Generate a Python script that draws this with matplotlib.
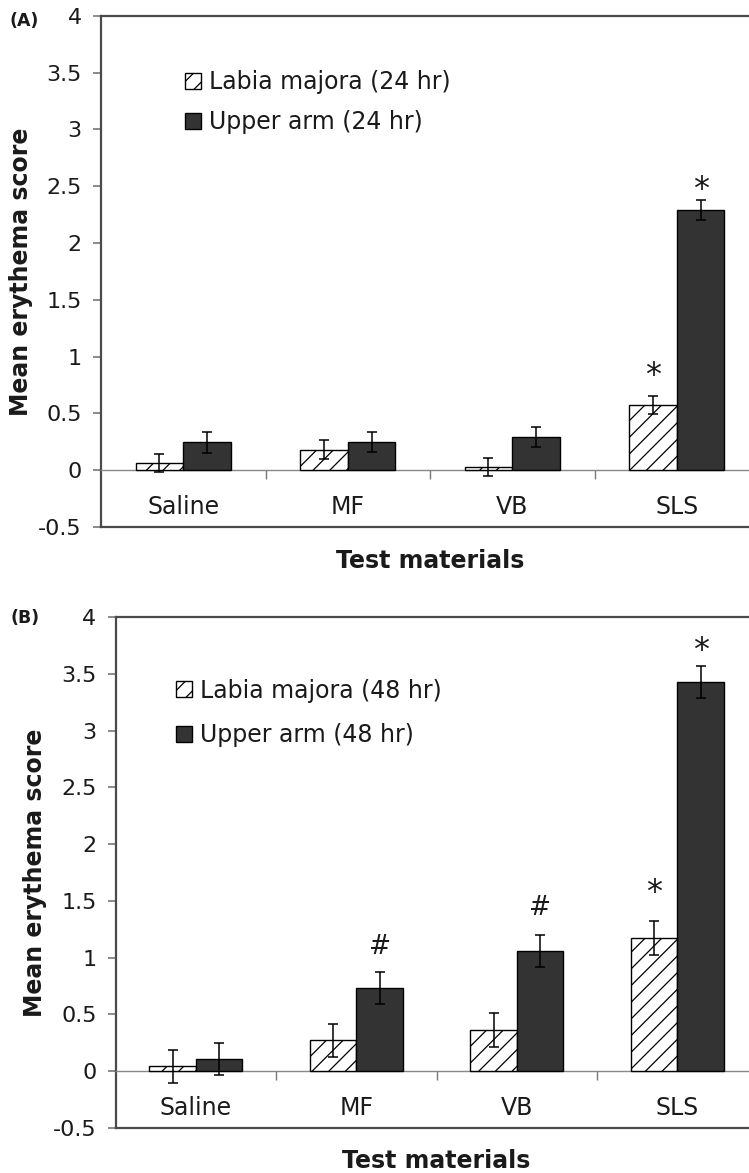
import numpy as np
import matplotlib
matplotlib.use("Agg")
import matplotlib.pyplot as plt
from matplotlib.ticker import FixedLocator

# Données
categories = ["Saline", "MF", "VB", "SLS"]

labia_24 = [0.067, 0.182, 0.03, 0.572]
labia_24_err = [0.08, 0.08, 0.08, 0.08]
arm_24 = [0.245, 0.25, 0.29, 2.29]
arm_24_err = [0.09, 0.09, 0.09, 0.09]

labia_48 = [0.041, 0.27, 0.359, 1.171]
labia_48_err = [0.145, 0.148, 0.15, 0.15]
arm_48 = [0.103, 0.732, 1.061, 3.433]
arm_48_err = [0.14, 0.141, 0.14, 0.14]

# marques de significativité : (catégorie, série, symbole, hauteur)
marks_24 = [(3, 0, "*", 0.924), (3, 1, "*", 2.565)]
marks_48 = [(1, 1, "#", 1.115), (2, 1, "#", 1.459), (3, 0, "*", 1.665), (3, 1, "*", 3.796)]

yticks = [-0.5, 0, 0.5, 1, 1.5, 2, 2.5, 3, 3.5, 4]

plt.rcParams["font.family"] = "DejaVu Sans"
plt.rcParams["hatch.linewidth"] = 0.9

TXT = "#1a1a1a"
FRAME = "#4a4a4a"
DARK = "#333333"
FS = 17


def draw_panel(ax, labia, labia_err, arm, arm_err, lab_labia, lab_arm, marks, leg_anchor, leg_spacing):
    x = np.arange(len(categories)) + 0.5
    w = 0.29
    ekw = dict(ecolor="black", elinewidth=1.1, capsize=3.4, capthick=1.1)
    ax.bar(x - w / 2, labia, w, yerr=labia_err, color="white", edgecolor="black",
           hatch="//", linewidth=1.0, label=lab_labia, error_kw=ekw, zorder=3)
    ax.bar(x + w / 2, arm, w, yerr=arm_err, color=DARK, edgecolor="black",
           linewidth=1.0, label=lab_arm, error_kw=ekw, zorder=3)

    for i, s, sym, yv in marks:
        xv = x[i] + (w / 2 if s == 1 else -w / 2)
        fs = 23 if sym == "*" else 19
        off = 0.59 if sym == "*" else 0.36
        ax.annotate(sym, (xv, yv), xytext=(0, -off * fs), textcoords="offset points",
                    ha="center", va="baseline", fontsize=fs, color=TXT, zorder=4)

    ax.set_xlim(0, 4)
    ax.set_ylim(-0.5, 4)

    # axe des catégories à y = 0, cadre en bas à -0.5
    ax.spines["bottom"].set_position(("data", 0))
    ax.spines["bottom"].set_color("#888888")
    ax.spines["bottom"].set_linewidth(1.0)
    ax.axhline(-0.5, color=FRAME, linewidth=1.6, clip_on=False, zorder=5)
    for sp in ["left", "top", "right"]:
        ax.spines[sp].set_color(FRAME)
        ax.spines[sp].set_linewidth(1.6)

    ax.set_xticks(x)
    ax.set_xticklabels(categories, fontsize=FS, color=TXT)
    ax.xaxis.set_minor_locator(FixedLocator([1, 2, 3]))
    ax.tick_params(axis="x", which="major", length=0, pad=18)
    ax.tick_params(axis="x", which="minor", length=6.5, direction="out", color="#777777", width=1)

    ax.set_yticks(yticks)
    ax.set_yticklabels([f"{v:g}" for v in yticks], fontsize=16, color=TXT)
    ax.tick_params(axis="y", length=5.8, width=1.2, color="#777777", pad=8)

    ax.set_ylabel("Mean erythema score", fontsize=FS, fontweight="bold", color=TXT, labelpad=4)
    ax.text(0.5, -0.066, "Test materials", transform=ax.transAxes,
            fontsize=FS, fontweight="bold", color=TXT, ha="center", va="center")

    ax.legend(loc="upper left", bbox_to_anchor=leg_anchor, frameon=False, fontsize=FS,
              handlelength=0.68, handleheight=0.68, handletextpad=0.34,
              labelspacing=leg_spacing, borderpad=0, borderaxespad=0, labelcolor=TXT)


fig = plt.figure(figsize=(7.49, 11.73), dpi=100)
ax1 = fig.add_axes([0.1349, 0.5507, 0.8785, 0.4359])
ax2 = fig.add_axes([0.1545, 0.0386, 0.8569, 0.4351])

draw_panel(ax1, labia_24, labia_24_err, arm_24, arm_24_err,
           "Labia majora (24 hr)", "Upper arm (24 hr)", marks_24, (0.128, 0.894), 0.68)
draw_panel(ax2, labia_48, labia_48_err, arm_48, arm_48_err,
           "Labia majora (48 hr)", "Upper arm (48 hr)", marks_48, (0.0935, 0.880), 0.86)

fig.text(24.5 / 749, 1 - 20.8 / 1173, "(A)", fontsize=12.5, fontweight="bold",
         color=TXT, ha="center", va="center")
fig.text(25.3 / 749, 1 - 618.3 / 1173, "(B)", fontsize=12.5, fontweight="bold",
         color=TXT, ha="center", va="center")

fig.savefig("out.png", dpi=100)
